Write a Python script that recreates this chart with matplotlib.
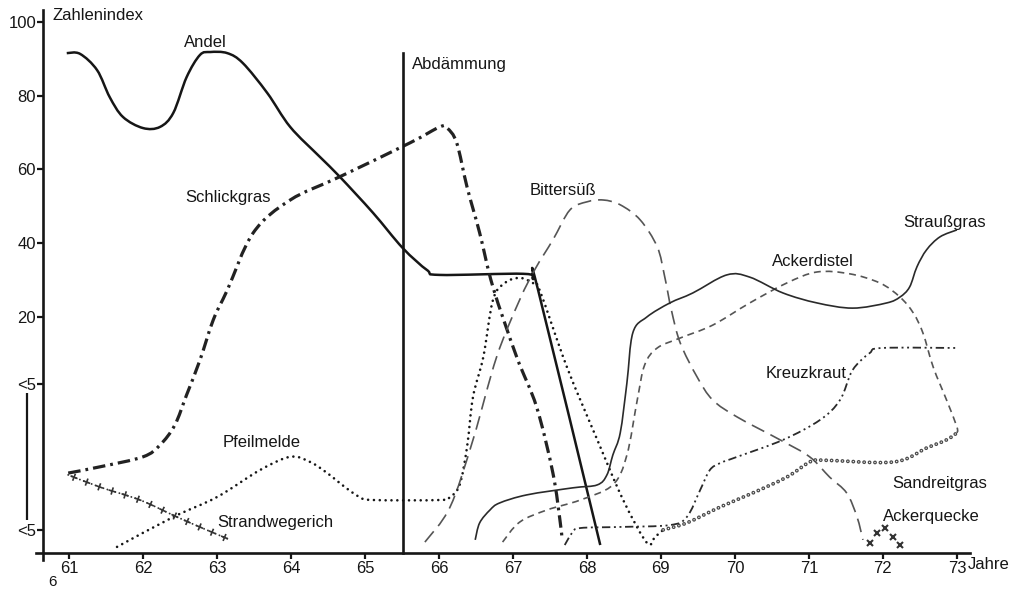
import matplotlib
matplotlib.use("Agg")
import numpy as np
import matplotlib.pyplot as plt
from matplotlib.path import Path
from matplotlib.patches import PathPatch
from matplotlib import patheffects as pe

plt.rcParams['font.family'] = ['Liberation Sans', 'DejaVu Sans']
plt.rcParams['lines.scale_dashes'] = False

# --- axes scales -------------------------------------------------------
years = [61, 62, 63, 64, 65, 66, 67, 68, 69, 70, 71, 72, 73]
year_labels = [str(y) for y in years]
index_ticks = [100, 80, 60, 40, 20, 1.8, -37.7]
index_labels = ['100', '80', '60', '40', '20', '<5', '<5']

dam_year = 65.51          # year of the dyke closure
dam_top = 91.5

# --- species curves (year, index) -------------------------------------
andel_x = [60.97, 61.15, 61.38, 61.55, 61.73, 62.0, 62.23, 62.41, 62.59, 62.77,
           62.91, 63.14, 63.35, 63.68, 63.99, 64.39, 64.66, 65.11, 65.51, 65.84,
           66.01, 67.14, 67.27, 67.34, 68.18]
andel_y = [91.5, 91.3, 86.9, 79.6, 74.2, 71.2, 71.5, 75.3, 85.0, 91.0,
           91.8, 91.5, 88.8, 80.7, 71.5, 63.4, 58.0, 48.2, 38.7, 32.7,
           31.4, 31.7, 30.3, 27.3, -41.8]

schlick_x = [60.99, 61.42, 62.0, 62.23, 62.43, 62.59, 62.77, 62.95, 63.14, 63.49,
             63.99, 64.66, 65.61, 66.01, 66.11, 66.24, 66.38, 66.55, 66.73, 67.05,
             67.32, 67.54, 67.64, 67.66]
schlick_y = [-22.3, -20.6, -17.9, -14.7, -9.3, -1.1, 8.3, 19.2, 27.3, 42.8,
             51.7, 58.0, 67.2, 71.5, 71.2, 67.2, 55.2, 42.8, 28.1, 9.2,
             -4.4, -22.3, -35.8, -39.6]

pfeil_x = [61.65, 62.41, 63.0, 63.58, 63.99, 64.26, 64.49, 64.73, 64.93, 65.11,
           66.01, 66.15, 66.28, 66.38, 66.46, 66.6, 66.73, 66.89, 67.09, 67.27,
           67.36, 67.73, 68.14, 68.49, 68.81, 68.92, 69.03]
pfeil_y = [-42.3, -34.2, -28.8, -21.5, -17.9, -19.3, -22.3, -26.1, -28.8, -29.6,
           -29.6, -28.8, -25.5, -15.2, -1.7, 9.2, 24.6, 29.2, 30.6, 29.2,
           27.3, 6.4, -13.3, -29.6, -41.2, -39.6, -37.7]

strand_x = [60.99, 61.42, 61.96, 62.46, 62.86, 63.18]
strand_y = [-22.8, -26.1, -29.6, -34.2, -37.7, -40.4]

bitter_x = [65.81, 66.15, 66.46, 66.78, 67.09, 67.3, 67.54, 67.77, 68.0, 68.22,
            68.45, 68.72, 68.95, 69.05, 69.14, 69.26, 69.49, 69.70, 70.03, 70.61,
            71.01, 71.28, 71.51, 71.65, 71.73]
bitter_y = [-41.0, -31.5, -13.3, 9.2, 24.6, 33.0, 40.9, 49.0, 51.2, 51.7,
            50.4, 46.3, 39.0, 31.0, 22.0, 13.0, 3.7, -2.5, -7.1, -13.3,
            -17.9, -23.4, -27.7, -34.2, -40.4]

distel_x = [66.86, 67.09, 67.46, 67.91, 68.35, 68.54, 68.68, 68.78, 68.95, 69.26,
            69.70, 70.2, 70.70, 71.11, 71.55, 71.96, 72.23, 72.41, 72.54, 72.68,
            72.86, 73.0, 73.0]
distel_y = [-41.0, -35.6, -32.3, -29.6, -25.5, -17.4, -2.5, 7.0, 11.6, 14.3,
            17.8, 23.8, 29.2, 32.2, 31.7, 29.2, 25.4, 21.1, 15.7, 6.4,
            -2.5, -9.8, -11.4]

strauss_x = [66.49, 66.55, 66.69, 66.82, 67.19, 67.81, 68.14, 68.27, 68.35, 68.45,
             68.54, 68.62, 68.81, 69.12, 69.43, 69.89, 70.20, 70.65, 71.11, 71.59,
             72.05, 72.23, 72.36, 72.46, 72.59, 72.77, 73.0]
strauss_y = [-40.4, -35.8, -32.3, -30.4, -28.2, -26.3, -25.5, -22.8, -17.4, -11.4,
             2.1, 15.7, 20.0, 23.8, 26.5, 31.4, 30.8, 26.5, 23.8, 22.4,
             23.8, 25.4, 28.1, 33.6, 38.2, 41.7, 43.6]

kreuz_x = [67.70, 67.80, 67.91, 68.45, 69.12, 69.35, 69.53, 69.66, 69.80, 70.03,
           70.65, 71.15, 71.42, 71.59, 71.82, 71.99, 73.0]
kreuz_y = [-41.8, -38.5, -37.2, -36.9, -36.4, -34.2, -26.9, -21.5, -19.6, -17.9,
           -13.3, -7.9, -2.5, 5.6, 10.2, 11.6, 11.6]

sand_x = [69.03, 69.35, 69.80, 70.24, 70.70, 71.01, 71.18, 72.14, 72.59, 72.86, 73.0]
sand_y = [-37.7, -35.8, -31.5, -27.7, -23.4, -19.3, -18.8, -19.3, -15.5, -13.3, -11.4]

quecke_x = [71.82, 71.92, 72.03, 72.14, 72.23]
quecke_y = [-41.2, -38.5, -37.2, -39.6, -41.8]


def smooth_path(xs, ys):
    """Cubic Bezier path through every given point (Catmull-Rom tangents)."""
    pts = np.column_stack([xs, ys]).astype(float)
    n = len(pts)
    verts, codes = [pts[0]], [Path.MOVETO]
    for i in range(n - 1):
        p0 = pts[i - 1] if i > 0 else pts[i]
        p1, p2 = pts[i], pts[i + 1]
        p3 = pts[i + 2] if i + 2 < n else pts[i + 1]
        verts += [p1 + (p2 - p0) / 6.0, p2 - (p3 - p1) / 6.0, p2]
        codes += [Path.CURVE4] * 3
    return Path(verts, codes)


def curve(ax, xs, ys, **kw):
    patch = PathPatch(smooth_path(xs, ys), fill=False, **kw)
    ax.add_patch(patch)
    return patch


# --- figure --------------------------------------------------------------
ink = '#161616'
fig = plt.figure(figsize=(10.25, 5.93), dpi=100)
ax = fig.add_axes([0, 0, 1, 1])
ax.set_xlim(60.068, 73.92)
ax.set_ylim(-54.8, 105.9)
ax.patch.set_alpha(0)

for side in ('top', 'right'):
    ax.spines[side].set_visible(False)
ax.spines['left'].set_position(('data', 60.65))
ax.spines['left'].set_bounds(-45.9, 103.2)
ax.spines['bottom'].set_position(('data', -43.96))
ax.spines['bottom'].set_bounds(60.55, 73.18)
for side in ('left', 'bottom'):
    ax.spines[side].set_linewidth(1.9)
    ax.spines[side].set_color(ink)

ax.set_xticks(years)
ax.set_xticklabels(year_labels)
ax.set_yticks(index_ticks)
ax.set_yticklabels(index_labels)
ax.tick_params(axis='both', direction='out', length=4.5, width=1.6,
               color=ink, labelcolor=ink, labelsize=12)
ax.tick_params(axis='x', pad=1.5)
ax.tick_params(axis='y', pad=0.5)

# bracket marking the "< 5" zone
ax.plot([60.43, 60.43], [-0.6, -35.0], color=ink, lw=1.6, solid_capstyle='butt')

# dyke closure
ax.plot([dam_year, dam_year], [-43.96, dam_top], color=ink, lw=1.9)

# curves
curve(ax, andel_x, andel_y, edgecolor=ink, lw=1.8, joinstyle='round')
curve(ax, schlick_x, schlick_y, edgecolor='#222222', lw=2.3,
      linestyle=(0, (9, 3.6, 2.0, 3.6)), capstyle='butt')
curve(ax, pfeil_x, pfeil_y, edgecolor=ink, lw=1.9,
      linestyle=(0, (0.01, 4.2)), capstyle='round')

# Strandwegerich: dotted line with small crosses along it
curve(ax, strand_x, strand_y, edgecolor='#333333', lw=1.4,
      linestyle=(0, (0.01, 3.0)), capstyle='round')
cross = [pe.TickedStroke(spacing=9.0, angle=a, length=0.3, linewidth=1.2,
                         foreground='#333333') for a in (0, 90, 180, -90)]
curve(ax, strand_x, strand_y, edgecolor='#333333', lw=1.2, path_effects=cross)

curve(ax, bitter_x, bitter_y, edgecolor='#555555', lw=1.2,
      linestyle=(0, (10, 5)), capstyle='butt')
curve(ax, distel_x, distel_y, edgecolor='#555555', lw=1.2,
      linestyle=(0, (5, 3.5)), capstyle='butt')
curve(ax, strauss_x, strauss_y, edgecolor='#2a2a2a', lw=1.2, joinstyle='round')
curve(ax, kreuz_x, kreuz_y, edgecolor='#2a2a2a', lw=1.3,
      linestyle=(0, (6, 2.6, 1.4, 2.6, 1.4, 2.6)), capstyle='butt')

# Sandreitgras: chain of small rings
curve(ax, sand_x, sand_y, edgecolor='#4a4a4a', lw=2.8,
      linestyle=(0, (0.01, 3.9)), capstyle='round')
curve(ax, sand_x, sand_y, edgecolor='white', lw=1.0,
      linestyle=(0, (0.01, 3.9)), capstyle='round')

ax.plot(quecke_x, quecke_y, linestyle='none', marker='x', ms=4.5,
        mew=1.5, color='#333333')

# labels
fs = 12
def label(x, y, s, ha='left'):
    ax.text(x, y, s, ha=ha, va='center', fontsize=fs, color=ink)

label(60.78, 101.8, 'Zahlenindex')
label(62.84, 94.5, 'Andel', ha='center')
label(62.57, 52.5, 'Schlickgras')
label(63.07, -14.1, 'Pfeilmelde')
label(63.01, -35.6, 'Strandwegerich')
label(65.64, 88.3, 'Abdämmung')
label(67.23, 54.4, 'Bittersüß')
label(70.50, 34.9, 'Ackerdistel')
label(72.27, 45.7, 'Straußgras')
label(70.41, 4.8, 'Kreuzkraut')
label(72.12, -25.0, 'Sandreitgras')
label(72.00, -34.2, 'Ackerquecke')
label(73.15, -47.2, 'Jahre')
ax.text(60.78, -51.8, '6', ha='center', va='center', fontsize=11, color=ink)

fig.savefig('out.png', dpi=100, facecolor='white')
